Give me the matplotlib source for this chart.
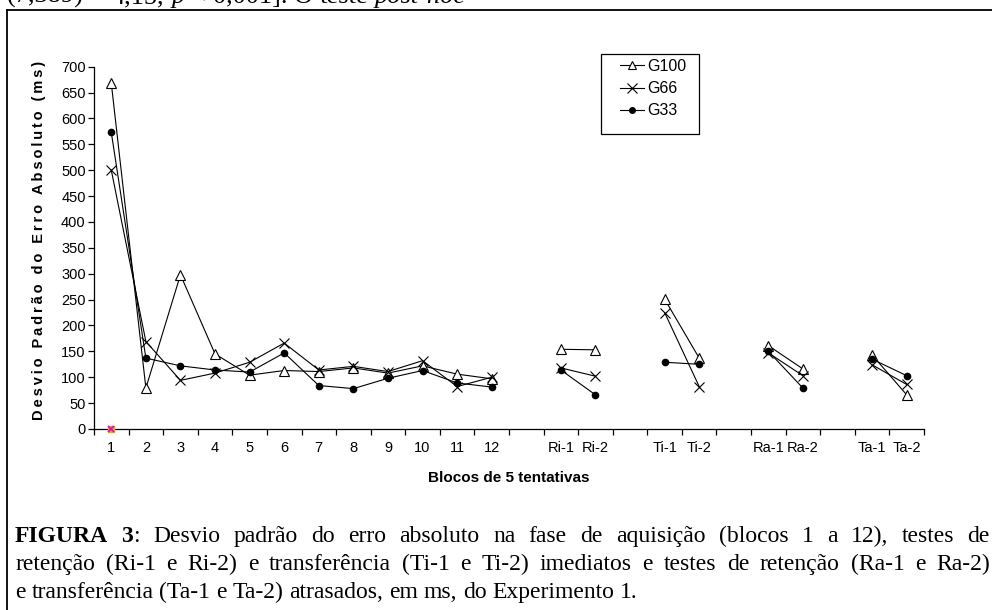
"""Desvio padrao do erro absoluto - Experimento 1 (Figura 3)."""
import matplotlib

matplotlib.use("Agg")

import matplotlib.patches as mpatches
import matplotlib.pyplot as plt
import numpy as np
from matplotlib.lines import Line2D

SANS = ["Liberation Sans", "DejaVu Sans"]
SERIF = ["Liberation Serif", "DejaVu Serif"]

# categories along the x axis ("" = empty slot between test groups)
blocks = ["1", "2", "3", "4", "5", "6", "7", "8", "9", "10", "11", "12",
          "", "Ri-1", "Ri-2", "", "Ti-1", "Ti-2", "", "Ra-1", "Ra-2", "", "Ta-1", "Ta-2"]

g100 = [668, 79, 298, 145, 104, 113, 111, 118, 108, 122, 106, 97,
        None, 154, 153, None, 251, 137, None, 161, 116, None, 143, 66]
g66 = [500, 169, 94, 108, 129, 166, 114, 121, 111, 132, 82, 100,
       None, 118, 102, None, 225, 82, None, 147, 103, None, 124, 86]
g33 = [573, 137, 122, 114, 110, 147, 84, 78, 98, 113, 89, 81,
       None, 114, 66, None, 129, 125, None, 150, 79, None, 135, 103]
stray = [0]  # the little coloured mark sitting on block 1 at zero

y_ticks = list(range(0, 701, 50))

header_runs = [("(7,389) = 4,15, ", "normal", "normal"), ("p", "normal", "italic"),
               (" < 0,001]. O teste ", "normal", "normal"), ("post-hoc", "normal", "italic")]
caption_lines = [
    [("FIGURA 3", "bold", "normal"),
     (": Desvio padrão do erro absoluto na fase de aquisição (blocos 1 a 12), testes de",
      "normal", "normal")],
    [("retenção (Ri-1 e Ri-2) e transferência (Ti-1 e Ti-2) imediatos e testes de retenção (Ra-1 e Ra-2)",
      "normal", "normal")],
    [("e transferência (Ta-1 e Ta-2) atrasados, em ms, do Experimento 1.", "normal", "normal")],
]

W, H = 992, 610


def _vals(seq):
    return np.array([np.nan if v is None else v for v in seq], dtype=float)


def _draw_runs(fig, x0, y0, runs, size, width=None):
    """Place text runs word by word (pixel coords, baseline y0); justify if width."""
    renderer = fig.canvas.get_renderer()
    tokens, cur = [], []
    for text, weight, style in runs:
        for j, part in enumerate(text.split(" ")):
            if j > 0 and cur:
                tokens.append(cur)
                cur = []
            if part:
                cur.append((part, weight, style))
    if cur:
        tokens.append(cur)

    placed = []
    for tok in tokens:
        segs = []
        for s, weight, style in tok:
            t = fig.text(0, 0, s, fontsize=size, family=SERIF, weight=weight,
                         style=style, va="baseline", ha="left")
            segs.append((t, t.get_window_extent(renderer).width))
        placed.append(segs)

    probe = fig.text(0, 0, "n n", fontsize=size, family=SERIF)
    probe2 = fig.text(0, 0, "nn", fontsize=size, family=SERIF)
    space = probe.get_window_extent(renderer).width - probe2.get_window_extent(renderer).width
    probe.remove()
    probe2.remove()

    widths = [sum(w for _, w in segs) for segs in placed]
    gap = space
    if width is not None and len(placed) > 1:
        gap = (width - sum(widths)) / (len(placed) - 1)

    x = x0
    for segs, tw in zip(placed, widths):
        xx = x
        for t, w in segs:
            t.set_position((xx / W, 1 - y0 / H))
            xx += w
        x += tw + gap


fig = plt.figure(figsize=(W / 100, H / 100), dpi=100)
ax = fig.add_axes([94 / W, 1 - 429 / H, (924 - 94) / W, (429 - 66.7) / H])

x = np.arange(len(blocks)) + 0.5
ax.plot(x, _vals(g100), color="black", linewidth=0.8, marker="^", markersize=7,
        markerfacecolor="white", markeredgecolor="black", markeredgewidth=0.8, label="G100")
ax.plot(x, _vals(g66), color="black", linewidth=0.8, marker="x", markersize=7,
        markeredgewidth=0.8, label="G66")
ax.plot(x, _vals(g33), color="black", linewidth=0.8, marker="o", markersize=4.5,
        label="G33")
ax.plot(x[:len(stray)], stray, linestyle="none", marker="s", markersize=4,
        color="#E8B000", clip_on=False, zorder=5)
ax.plot(x[:len(stray)], stray, linestyle="none", marker="x", markersize=4.5,
        markeredgewidth=1.2, color="#E000E0", clip_on=False, zorder=6)

ax.set_xlim(0, len(blocks))
ax.set_ylim(0, 700)
ax.set_yticks(y_ticks)
ax.set_yticklabels([str(v) for v in y_ticks], family=SANS, fontsize=10.5)
ax.set_xticks(np.arange(len(blocks) + 1))
ax.set_xticklabels([])
ax.set_xticks(x, minor=True)
ax.set_xticklabels(blocks, minor=True, family=SANS, fontsize=10.5)
ax.tick_params(axis="x", which="major", direction="out", length=4, width=0.9)
ax.tick_params(axis="x", which="minor", length=0, pad=9)
ax.tick_params(axis="y", direction="out", length=4, width=0.9, pad=2)
for side in ("top", "right"):
    ax.spines[side].set_visible(False)
for side in ("left", "bottom"):
    ax.spines[side].set_linewidth(0.9)

ax.set_ylabel("\u2009".join("Desvio Padrão do Erro Absoluto (ms)"), family=SANS,
              fontsize=10.5, weight="bold")
ax.yaxis.set_label_coords(-0.058, 0.52)
ax.set_xlabel("Blocos de 5 tentativas", family=SANS, fontsize=11, weight="bold", labelpad=11)

# legend: frame drawn as its own box, entries placed inside it
fig.add_artist(mpatches.Rectangle((601 / W, 1 - 134 / H), 98 / W, 80 / H, fill=False,
                                  edgecolor="black", linewidth=0.9,
                                  transform=fig.transFigure))
handles = [
    Line2D([0], [0], color="black", linewidth=0.8, marker="^", markersize=6,
           markerfacecolor="white", markeredgewidth=0.8, label="G100"),
    Line2D([0], [0], color="black", linewidth=0.8, marker="x", markersize=7,
           markeredgewidth=0.8, label="G66"),
    Line2D([0], [0], color="black", linewidth=0.8, marker="o", markersize=4, label="G33"),
]
fig.legend(handles=handles, loc="upper left", bbox_to_anchor=(620 / W, 1 - 59 / H),
           bbox_transform=fig.transFigure, frameon=False, prop={"family": SANS, "size": 11.5},
           handlelength=1.5, handletextpad=0.2, labelspacing=0.45, borderpad=0,
           borderaxespad=0)

# page frame (open at right and bottom, as in the scanned page)
fig.add_artist(Line2D([6.5 / W, 1.0], [1 - 9.5 / H, 1 - 9.5 / H], color="black",
                      linewidth=1.3, transform=fig.transFigure))
fig.add_artist(Line2D([6.5 / W, 6.5 / W], [0, 1 - 9.5 / H], color="black",
                      linewidth=1.3, transform=fig.transFigure))

_draw_runs(fig, 7, 3, header_runs, 19)
_draw_runs(fig, 15, 542, caption_lines[0], 17, width=975)
_draw_runs(fig, 15, 570, caption_lines[1], 17, width=975)
_draw_runs(fig, 15, 598, caption_lines[2], 17)

fig.savefig("out.png", dpi=100)
